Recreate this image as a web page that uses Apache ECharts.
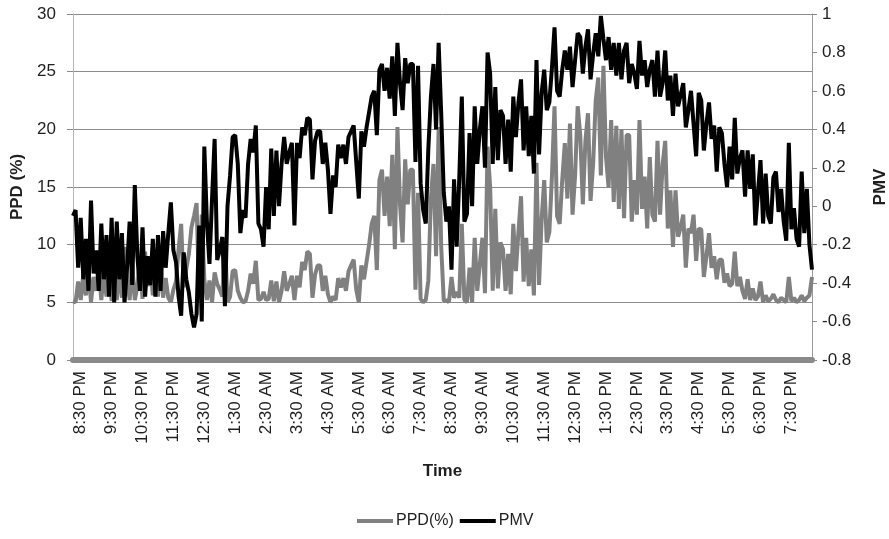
<!DOCTYPE html>
<html>
<head>
<meta charset="utf-8">
<script src="https://cdn.jsdelivr.net/npm/echarts@6/dist/echarts.min.js"></script>
<style>
html,body{margin:0;padding:0;background:#fff;}
#chart{width:889px;height:539px;}
</style>
</head>
<body>
<div id="chart"></div>
<script>
// Time categories: 5-minute readings from 8:15 PM to 8:10 PM next day
const START_MINUTES = 20 * 60 + 15;
const STEP_MINUTES = 5;
const POINT_COUNT = 288;
const categories = [];
for (let i = 0; i < POINT_COUNT; i++) {
  const m = (START_MINUTES + STEP_MINUTES * i) % 1440;
  const h = Math.floor(m / 60), mm = m % 60;
  let h12 = h % 12; if (h12 === 0) h12 = 12;
  categories.push(h12 + ':' + String(mm).padStart(2, '0') + ' ' + (h >= 12 ? 'PM' : 'AM'));
}

const tickLabels = ['8:30 PM','9:30 PM','10:30 PM','11:30 PM','12:30 AM','1:30 AM','2:30 AM','3:30 AM','4:30 AM','5:30 AM','6:30 AM','7:30 AM','8:30 AM','9:30 AM','10:30 AM','11:30 AM','12:30 PM','1:30 PM','2:30 PM','3:30 PM','4:30 PM','5:30 PM','6:30 PM','7:30 PM'];

const ppd = [
  5.1, 5.0, 6.8, 5.2, 7.4, 5.6, 7.8, 5.0, 7.2, 6.0, 7.9, 5.2,
  7.8, 5.5, 9.0, 5.1, 9.5, 5.2, 7.9, 5.4, 9.8, 7.0, 5.2, 8.3,
  5.2, 6.4, 8.8, 5.3, 9.4, 6.4, 8.4, 5.6, 9.6, 5.5, 9.0, 5.4,
  7.1, 5.4, 5.0, 6.1, 6.8, 9.6, 11.8, 6.3, 7.9, 9.2, 11.5, 12.5,
  13.6, 5.2, 12.6, 7.0, 5.2, 6.9, 5.0, 7.6, 6.6, 6.1, 5.5, 10.6,
  5.0, 5.5, 7.7, 7.8, 6.0, 5.4, 5.0, 5.1, 6.0, 7.5, 6.6, 8.6,
  5.2, 5.3, 5.9, 5.2, 5.3, 6.9, 5.1, 6.8, 5.0, 6.0, 7.7, 6.0,
  6.6, 7.3, 5.2, 7.3, 6.3, 8.5, 7.8, 9.4, 9.2, 5.4, 7.4, 8.2,
  8.2, 6.0, 7.3, 5.7, 5.0, 5.5, 5.2, 7.1, 6.3, 7.1, 6.0, 7.7,
  8.2, 8.7, 6.1, 5.0, 8.2, 7.0, 8.5, 10.0, 11.8, 12.5, 7.8, 15.6,
  16.5, 12.5, 15.9, 11.6, 17.8, 9.6, 20.2, 13.5, 10.2, 17.4, 13.5, 16.5,
  16.5, 6.1, 14.5, 5.3, 5.0, 5.2, 6.9, 14.0, 17.0, 9.0, 20.2, 9.8,
  5.1, 5.2, 5.0, 7.2, 5.4, 5.9, 5.4, 11.8, 5.2, 5.0, 8.0, 5.0,
  10.6, 6.0, 8.3, 10.6, 5.8, 18.5, 15.0, 6.0, 13.1, 6.2, 10.2, 9.6,
  6.0, 9.2, 5.7, 11.8, 7.7, 11.1, 14.2, 6.8, 10.6, 6.4, 9.6, 5.6,
  17.1, 6.5, 12.2, 15.6, 10.2, 11.1, 15.9, 22.0, 12.5, 11.8, 15.6, 18.8,
  14.0, 20.5, 12.6, 16.0, 22.0, 19.5, 13.5, 19.0, 21.4, 13.8, 17.0, 22.5,
  24.5, 16.0, 25.5, 17.6, 15.0, 20.8, 13.7, 20.3, 13.1, 20.0, 12.3, 19.5,
  19.5, 12.0, 15.6, 12.6, 20.8, 13.1, 15.9, 11.4, 17.6, 12.6, 12.0, 19.0,
  12.6, 17.0, 19.0, 11.4, 14.7, 9.8, 14.7, 10.7, 11.5, 12.6, 8.0, 11.4,
  11.0, 12.6, 8.6, 11.4, 11.3, 7.2, 9.0, 11.0, 8.0, 9.0, 7.0, 8.7,
  8.7, 6.7, 7.5, 6.4, 6.6, 9.4, 6.4, 7.2, 6.0, 5.3, 7.0, 5.2,
  6.2, 5.2, 5.5, 6.8, 5.0, 5.6, 5.1, 5.3, 5.7, 5.2, 5.0, 5.4,
  5.2, 5.0, 7.2, 5.1, 5.4, 5.0, 5.2, 5.6, 5.1, 5.4, 5.6, 7.2
];

const pmv = [
  -0.05, -0.02, -0.32, -0.06, -0.38, -0.17, -0.44, 0.03, -0.35, -0.23, -0.44, -0.09,
  -0.38, -0.15, -0.47, -0.06, -0.5, -0.08, -0.38, -0.14, -0.5, -0.32, -0.08, -0.41,
  0.11, -0.26, -0.44, -0.11, -0.47, -0.26, -0.41, -0.17, -0.47, -0.15, -0.44, -0.13,
  -0.32, -0.14, 0.02, -0.23, -0.29, -0.47, -0.57, -0.24, -0.38, -0.45, -0.56, -0.63,
  -0.56, -0.1, -0.6, 0.31, -0.08, -0.3, 0.04, 0.35, -0.28, -0.23, -0.16, -0.52,
  0.0, 0.16, 0.36, 0.37, 0.22, -0.14, -0.02, -0.06, 0.22, 0.35, 0.28, 0.42,
  -0.09, -0.12, -0.21, 0.1, -0.12, 0.3, -0.05, 0.29, 0.0, 0.22, 0.36, 0.22,
  0.28, 0.33, -0.1, 0.33, 0.25, 0.41, 0.37, 0.46, 0.45, 0.14, 0.34, 0.39,
  0.39, 0.22, 0.33, 0.19, -0.04, 0.16, 0.1, 0.32, 0.25, 0.32, 0.22, 0.36,
  0.39, 0.42, 0.23, 0.04, 0.39, 0.31, 0.41, 0.49, 0.57, 0.6, 0.37, 0.71,
  0.74, 0.6, 0.72, 0.56, 0.78, 0.47, 0.85, 0.64, 0.5, 0.77, 0.64, 0.74,
  0.74, 0.23, 0.73, 0.12, -0.02, -0.09, 0.3, 0.57, 0.74, 0.4, 0.85, 0.48,
  0.07, -0.08, 0.0, -0.33, 0.14, -0.21, 0.14, 0.57, -0.08, -0.04, 0.38, 0.0,
  0.52, 0.22, 0.4, 0.52, 0.2, 0.8, 0.69, 0.22, 0.62, 0.24, 0.5, 0.47,
  0.22, 0.45, 0.18, 0.57, 0.36, 0.54, 0.66, 0.29, 0.52, 0.26, 0.47, 0.17,
  0.76, 0.27, 0.59, 0.71, 0.5, 0.54, 0.72, 0.93, 0.6, 0.57, 0.71, 0.81,
  0.71, 0.83, 0.62, 0.76, 0.9, 0.88, 0.69, 0.83, 0.92, 0.66, 0.79, 0.9,
  0.78, 0.99, 0.87, 0.76, 0.88, 0.71, 0.85, 0.68, 0.85, 0.66, 0.81, 0.85,
  0.64, 0.74, 0.69, 0.61, 0.86, 0.68, 0.76, 0.62, 0.71, 0.76, 0.57, 0.81,
  0.57, 0.64, 0.81, 0.55, 0.68, 0.47, 0.69, 0.52, 0.58, 0.64, 0.41, 0.5,
  0.6, 0.43, 0.26, 0.59, 0.55, 0.29, 0.43, 0.54, 0.35, 0.42, 0.18, 0.41,
  0.38, 0.22, 0.1, 0.31, 0.14, 0.46, 0.17, 0.25, 0.29, 0.05, 0.29, 0.09,
  0.27, -0.1, 0.07, 0.24, -0.09, 0.17, -0.05, -0.09, 0.15, 0.18, -0.03, 0.09,
  -0.08, -0.18, 0.33, -0.12, -0.01, -0.17, -0.21, 0.18, -0.14, 0.09, -0.2, -0.33
];

const FONT = '"Liberation Sans", Arial, sans-serif';
const TXT = '#1f1f1f';
const chart = echarts.init(document.getElementById('chart'), null, {renderer: 'canvas'});
chart.setOption({
  animation: false,
  backgroundColor: '#ffffff',
  grid: {left: 73, right: 77, top: 14, bottom: 179, containLabel: false, outerBoundsMode: 'none'},
  legend: {
    bottom: 5, left: 352,
    itemWidth: 36, itemHeight: 4, itemGap: 6,
    icon: 'rect',
    textStyle: {fontFamily: FONT, fontSize: 16, color: TXT, padding: [0, 0, 0, -2]},
    data: ['PPD(%)', 'PMV']
  },
  xAxis: {
    type: 'category',
    data: categories,
    boundaryGap: false,
    offset: 3,
    name: 'Time',
    nameLocation: 'middle',
    nameGap: 100,
    nameTextStyle: {fontFamily: FONT, fontSize: 17, fontWeight: 'bold', color: TXT},
    axisLine: {show: true, lineStyle: {color: '#8a8a8a', width: 6}},
    axisTick: {show: false},
    axisLabel: {
      rotate: 90,
      margin: 8,
      fontFamily: FONT, fontSize: 17, color: TXT,
      interval: function (idx, val) { return tickLabels.indexOf(val) >= 0; }
    },
    splitLine: {show: false}
  },
  yAxis: [
    {
      type: 'value', min: 0, max: 30, interval: 5,
      name: 'PPD (%)', nameLocation: 'middle', nameGap: 46, nameRotate: 90,
      nameTextStyle: {fontFamily: FONT, fontSize: 17, fontWeight: 'bold', color: TXT},
      axisLine: {show: true, lineStyle: {color: '#b4b4b4', width: 1}},
      axisTick: {show: true, length: 6, lineStyle: {color: '#8a8a8a'}},
      axisLabel: {margin: 17, fontFamily: FONT, fontSize: 17, color: TXT},
      splitLine: {show: true, lineStyle: {color: '#8c8c8c', width: 1}}
    },
    {
      type: 'value', min: -0.8, max: 1, interval: 0.2,
      name: 'PMV', nameLocation: 'middle', nameGap: 60, nameRotate: 90,
      nameTextStyle: {fontFamily: FONT, fontSize: 17, fontWeight: 'bold', color: TXT},
      position: 'right',
      axisLine: {show: true, lineStyle: {color: '#9a9a9a', width: 1}},
      axisTick: {show: true, length: 5, lineStyle: {color: '#8a8a8a'}},
      axisLabel: {margin: 10, fontFamily: FONT, fontSize: 17, color: TXT,
        formatter: function (v) { return String(Math.round(v * 10) / 10); }},
      splitLine: {show: false}
    }
  ],
  series: [
    {
      name: 'PPD(%)', type: 'line', yAxisIndex: 0, data: ppd,
      showSymbol: false, symbol: 'none', z: 2,
      lineStyle: {color: '#808080', width: 4},
      itemStyle: {color: '#808080'}
    },
    {
      name: 'PMV', type: 'line', yAxisIndex: 1, data: pmv,
      showSymbol: false, symbol: 'none', z: 3,
      lineStyle: {color: '#000000', width: 4},
      itemStyle: {color: '#000000'}
    }
  ]
});
</script>
</body>
</html>
